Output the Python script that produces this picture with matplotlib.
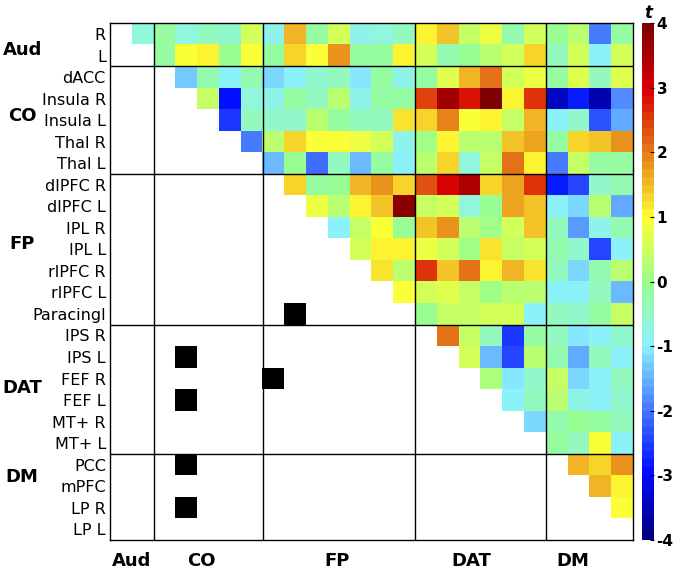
import numpy as np
import matplotlib
matplotlib.use("Agg")
import matplotlib.pyplot as plt
from matplotlib.colors import LinearSegmentedColormap, ListedColormap
from matplotlib.transforms import blended_transform_factory

plt.rcParams["axes.unicode_minus"] = False

# region names (rows and columns are the same list)
rois = ["R", "L",
        "dACC", "Insula R", "Insula L", "Thal R", "Thal L",
        "dlPFC R", "dlPFC L", "IPL R", "IPL L", "rlPFC R", "rlPFC L", "Paracingl",
        "IPS R", "IPS L", "FEF R", "FEF L", "MT+ R", "MT+ L",
        "PCC", "mPFC", "LP R", "LP L"]
groups = ["Aud", "CO", "FP", "DAT", "DM"]
group_sizes = [2, 5, 7, 6, 4]

# t values above the diagonal, row i holds columns i+1 .. 23
t_R = [-0.7, -0.2, -0.7, -0.4, -0.6, 0.6, -0.8, 1.6, -0.2, 0.5, -0.8, -0.7, -0.5,
       1.0, 1.4, 0.4, 0.8, -0.3, 0.6, -0.1, 0.3, -2.0, -0.2]
t_L = [-0.2, 0.9, 1.1, -0.1, 0.9, -0.2, 1.3, 0.9, 1.8, -0.2, -0.2, 1.1,
       0.6, -0.3, -0.1, 0.3, 0.5, 1.3, -0.5, 0.5, -0.9, 0.5]
t_dACC = [-1.3, -0.3, -1.0, -0.3, -1.2, -0.9, -0.6, -0.5, -1.1, -0.2, -0.8,
          -0.2, 0.7, 1.6, 2.0, 0.5, 0.8, -0.2, 0.7, -0.4, 0.7]
t_InsR = [0.4, -3.0, -0.7, -0.8, -0.2, -0.4, 0.3, -0.8, -0.2, -0.2,
          2.4, 3.5, 2.8, 3.9, 1.1, 2.5, -3.5, -2.8, -3.6, -1.8]
t_InsL = [-2.6, -0.5, -0.6, -0.6, 0.3, -0.2, -0.5, -0.4, 1.2,
          1.3, 1.9, 0.9, 1.1, 0.4, 1.6, -1.0, -0.6, -2.3, -1.6]
t_ThalR = [-2.0, 0.3, 1.3, 0.9, 0.9, 0.8, 0.6, -0.8,
           0.0, 1.1, 0.3, 0.3, 1.4, 1.7, -0.2, 1.3, 1.4, 1.8]
t_ThalL = [-1.4, -0.1, -2.1, -0.5, -1.4, -0.2, -1.0,
           0.3, 1.3, -0.7, 0.4, 2.0, 1.0, -2.0, 0.4, -0.2, -0.2]
t_dlPFCR = [1.3, -0.2, -0.1, 1.6, 1.8, 1.3, 2.3, 2.9, 3.4, 1.3, 1.7, 2.5, -2.8, -2.5, -0.6, -0.3]
t_dlPFCL = [0.8, 0.3, 1.1, 1.4, 3.8, 0.4, 0.5, -0.7, -0.1, 1.7, 1.4, -0.9, -1.2, 0.3, -1.6]
t_IPLR = [-0.9, 0.4, 0.9, -0.1, 1.4, 1.8, 0.3, 0.0, 0.6, 1.4, -0.4, -1.7, -0.8, -0.3]
t_IPLL = [0.6, 1.1, 1.1, 0.8, 0.6, 0.1, 1.2, 0.4, 0.5, -0.3, -0.6, -2.4, -0.9]
t_rlPFCR = [1.2, 0.3, 2.6, 1.4, 2.0, 1.0, 1.6, 1.2, -0.5, -1.2, -0.3, 0.3]
t_rlPFCL = [0.9, 0.5, 0.7, 0.4, 0.1, 0.3, 0.3, -0.9, -1.0, -0.5, -1.4]
t_Parac = [-0.1, 0.4, 0.4, 0.5, 0.5, -0.9, -0.5, -0.6, -0.2, 0.4]
t_IPSR = [2.0, 0.4, -0.5, -2.6, -0.2, -0.5, -1.1, -1.0, -0.6]
t_IPSL = [0.5, -1.5, -2.5, 0.3, -0.3, -1.6, -0.5, -0.9]
t_FEFR = [0.2, -1.1, -0.6, 0.4, -1.2, -1.0, -0.5]
t_FEFL = [-0.9, -0.5, 0.3, -0.8, -0.9, -0.6]
t_MTR = [-1.2, -0.3, -0.1, -0.2, -0.5]
t_MTL = [-0.2, -0.5, 0.9, -0.9]
t_PCC = [1.6, 1.3, 1.8]
t_mPFC = [1.6, 1.0]
t_LPR = [0.9]
t_LPL = []

upper_rows = [t_R, t_L, t_dACC, t_InsR, t_InsL, t_ThalR, t_ThalL,
              t_dlPFCR, t_dlPFCL, t_IPLR, t_IPLL, t_rlPFCR, t_rlPFCL, t_Parac,
              t_IPSR, t_IPSL, t_FEFR, t_FEFL, t_MTR, t_MTL,
              t_PCC, t_mPFC, t_LPR, t_LPL]

# significant pairs, marked black below the diagonal
sig_rows = [13, 15, 16, 17, 20, 22]
sig_cols = [8, 3, 7, 3, 3, 3]

n = len(rois)
mat = np.full((n, n), np.nan)
for i, vals in enumerate(upper_rows):
    mat[i, i + 1:] = vals
sig = np.full((n, n), np.nan)
for r, c in zip(sig_rows, sig_cols):
    sig[r, c] = 1

# jet-like colormap, lighter around zero
cmap = LinearSegmentedColormap.from_list("tjet", [
    (0.0, (0.0, 0.0, 0.5)),
    (0.125, (0.0, 0.05, 1.0)),
    (0.25, (0.27, 0.47, 1.0)),
    (0.375, (0.55, 0.95, 1.0)),
    (0.5, (0.6, 1.0, 0.55)),
    (0.625, (1.0, 1.0, 0.2)),
    (0.75, (0.9, 0.5, 0.1)),
    (0.875, (0.85, 0.0, 0.0)),
    (1.0, (0.5, 0.0, 0.0))], N=64)
cmap.set_bad("white")

fig = plt.figure(figsize=(6.77, 5.70), dpi=100)
ax = fig.add_axes([0.1625, 0.0526, 0.7725, 0.9065])
im = ax.imshow(np.ma.masked_invalid(mat), cmap=cmap, vmin=-4, vmax=4,
               aspect="auto", interpolation="nearest")
ax.imshow(np.ma.masked_invalid(sig), cmap=ListedColormap(["black"]),
          aspect="auto", interpolation="nearest")

# block boundaries
for b in np.cumsum(group_sizes)[:-1]:
    ax.axhline(b - 0.5, color="black", lw=1)
    ax.axvline(b - 0.5, color="black", lw=1)

ax.set_yticks(range(n))
ax.set_yticklabels(rois, fontsize=11.5)
ax.set_xticks([])
ax.tick_params(length=0, pad=3)
for s in ax.spines.values():
    s.set_linewidth(1)

# group labels
left_pos = [0.75, 3.8, 9.75, 16.45, 20.55]
bottom_pos = [0.5, 3.7, 9.9, 16.1, 20.75]
tr_left = blended_transform_factory(ax.transAxes, ax.transData)
tr_bot = blended_transform_factory(ax.transData, ax.transAxes)
for g, yp, xp in zip(groups, left_pos, bottom_pos):
    ax.text(-0.168, yp, g, transform=tr_left, ha="center", va="center",
            fontsize=13, fontweight="bold")
    ax.text(xp, -0.04, g, transform=tr_bot, ha="center", va="center",
            fontsize=13, fontweight="bold")

cax = fig.add_axes([0.948, 0.0526, 0.0177, 0.9065])
cb = fig.colorbar(im, cax=cax, ticks=range(-4, 5))
cb.outline.set_visible(False)
cax.tick_params(direction="in", length=3, width=0.8, pad=2)
for lab in cax.get_yticklabels():
    lab.set_fontweight("bold")
    lab.set_fontsize(11)
cax.set_title("t", fontsize=12, fontweight="bold", style="italic", pad=4)

plt.savefig("out.png", dpi=100)
